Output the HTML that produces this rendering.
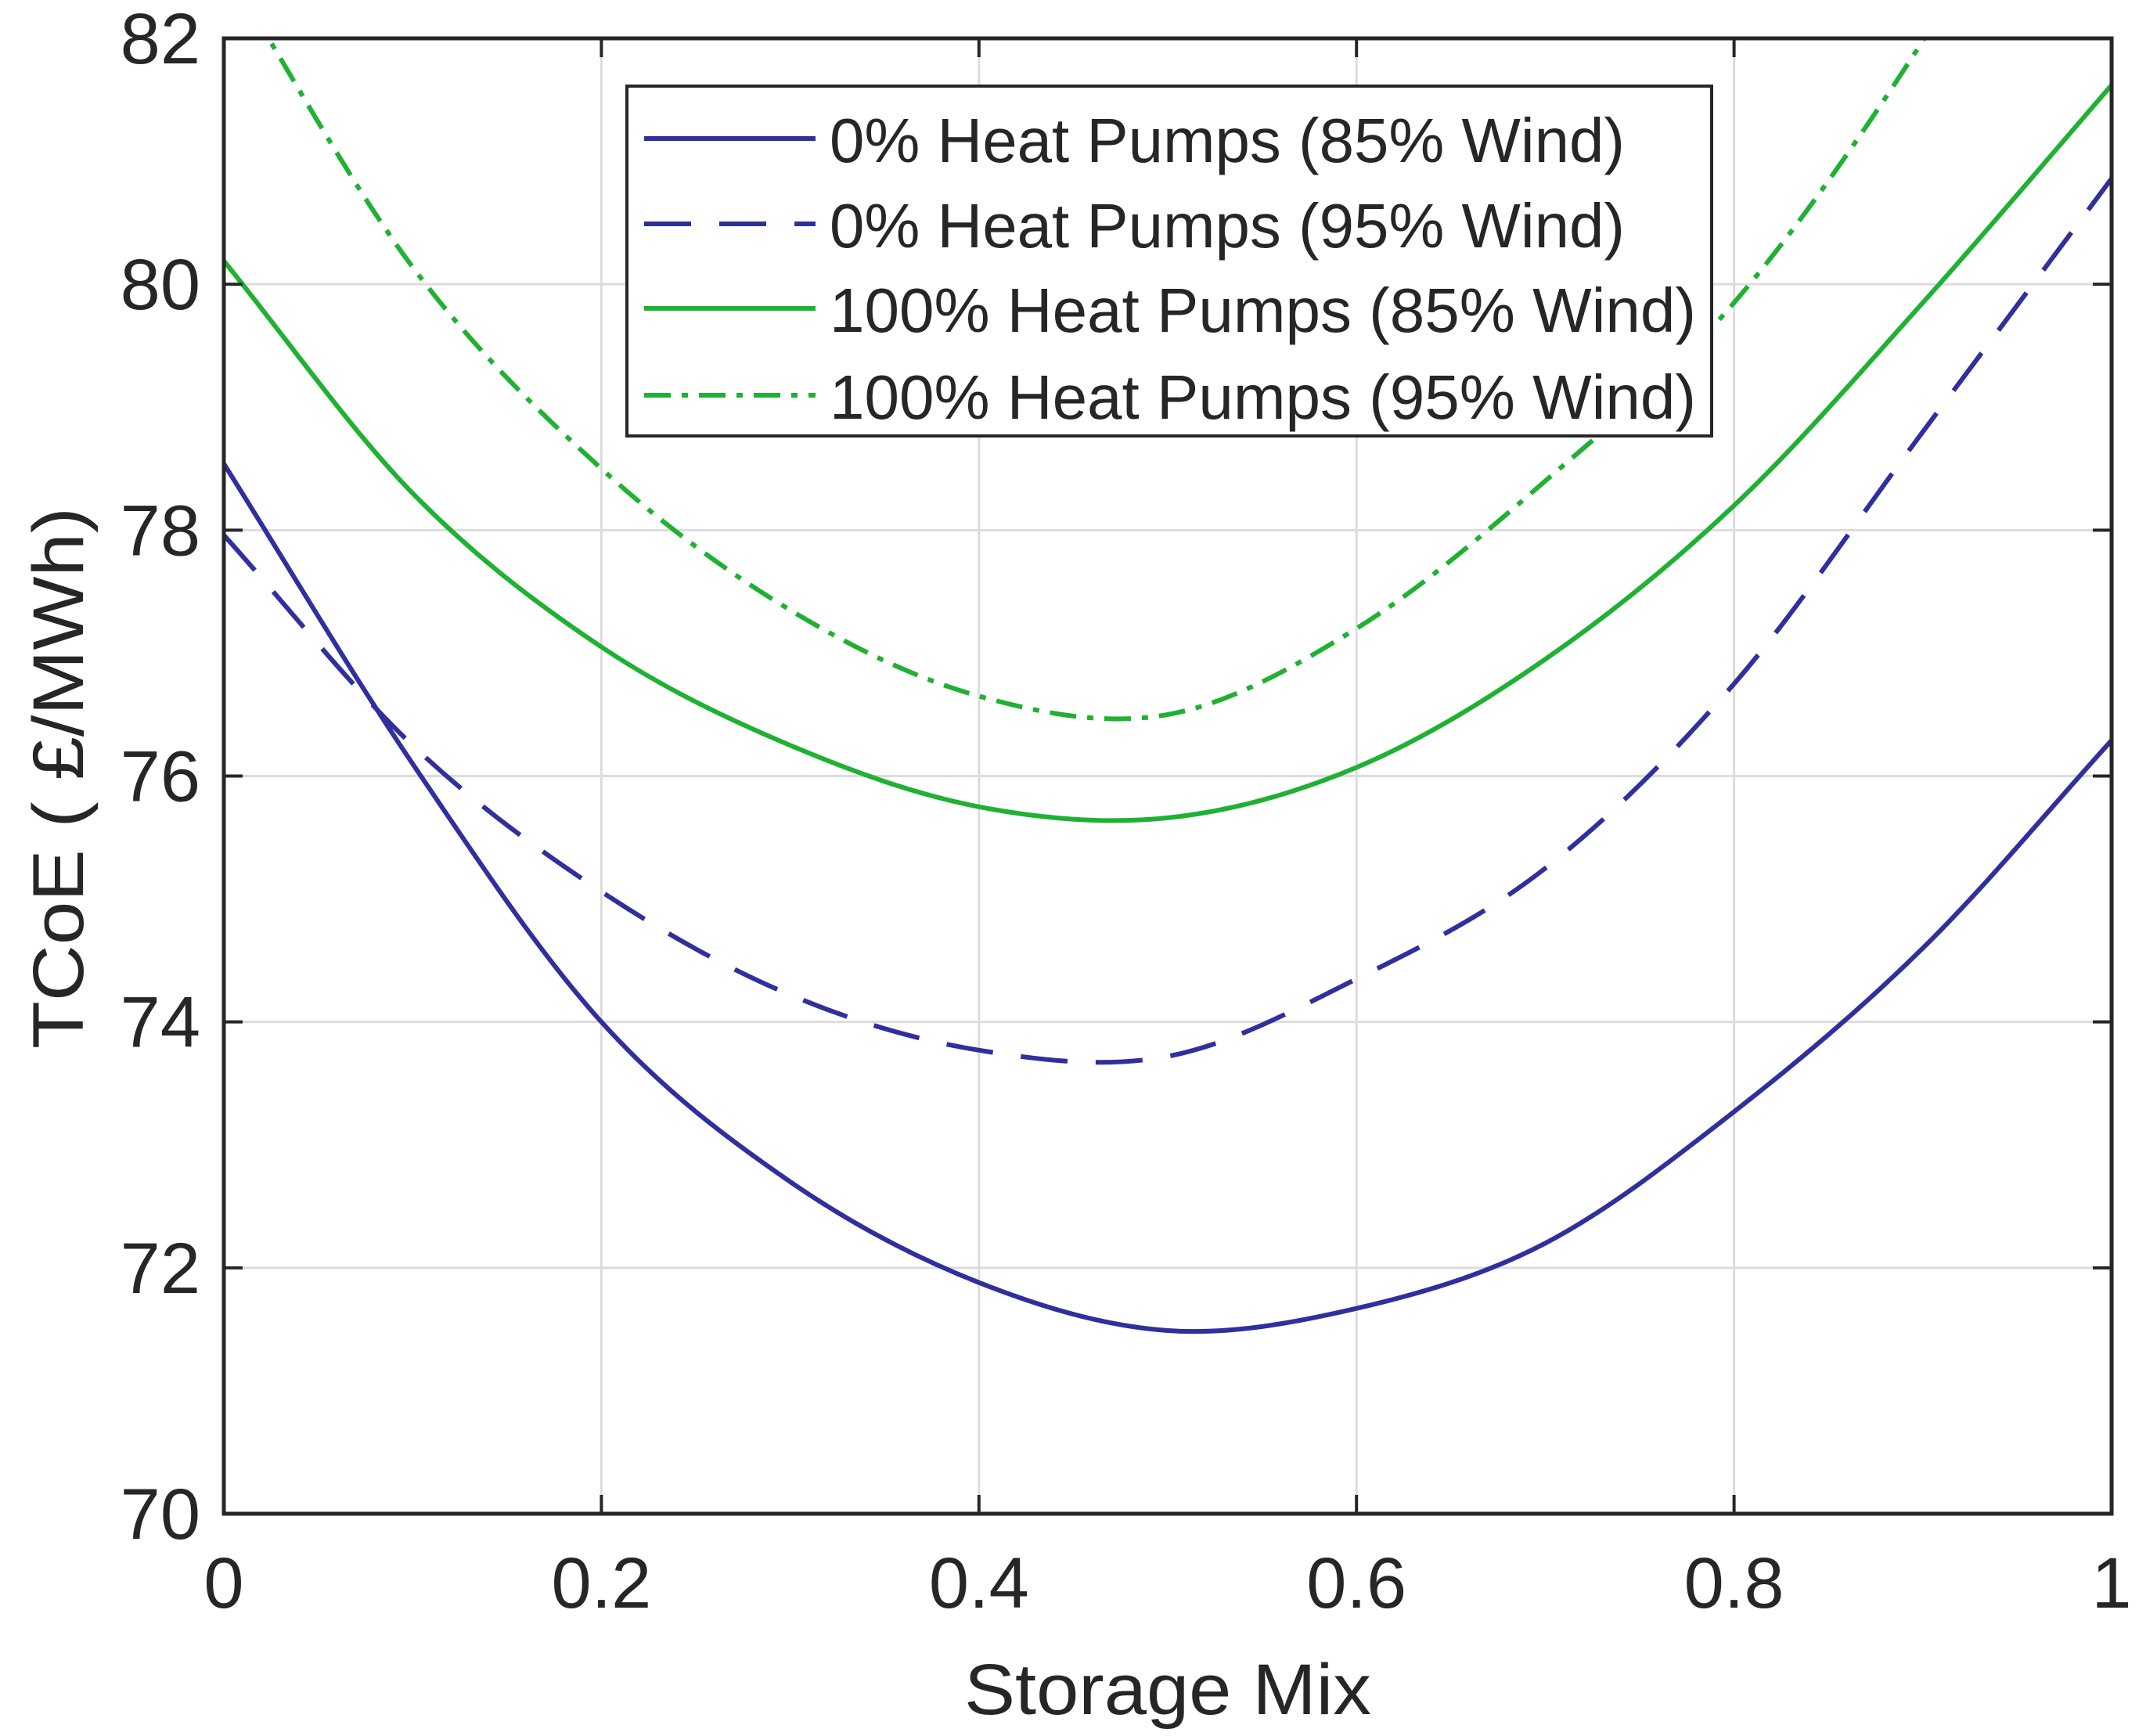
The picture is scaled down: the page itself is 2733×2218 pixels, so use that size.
<!DOCTYPE html>
<html><head><meta charset="utf-8">
<style>
html,body{margin:0;padding:0;background:#fff;}
svg{display:block;font-family:"Liberation Sans",Arial,sans-serif;}
</style></head>
<body>
<svg id="chart" width="2733" height="2218" viewBox="0 0 2733 2218" xmlns="http://www.w3.org/2000/svg">
<defs><clipPath id="plotclip"><rect x="286" y="49" width="2412" height="1885"/></clipPath></defs>
<g id="grid"></g>
<g id="series" clip-path="url(#plotclip)"></g>
<g id="axes"></g>
<text x="1492" y="2190" font-size="92" text-anchor="middle" fill="#262626" textLength="520" lengthAdjust="spacingAndGlyphs">Storage Mix</text>
<text transform="translate(106,994) rotate(-90)" font-size="92" text-anchor="middle" fill="#262626" textLength="692" lengthAdjust="spacingAndGlyphs">TCoE ( £/MWh)</text>
<g id="legend">
<rect x="801" y="110" width="1386" height="447" fill="#fff" stroke="#262626" stroke-width="4"/>
</g>
</svg>
<script>
const xTicks=[0,0.2,0.4,0.6,0.8,1];
const xTickLabels=["0","0.2","0.4","0.6","0.8","1"];
const yTicks=[70,72,74,76,78,80,82];
const yTickLabels=["70","72","74","76","78","80","82"];
const xs=[0,0.1,0.2,0.3,0.4,0.5,0.6,0.7,0.8,0.9,1];
const hp0w85=[78.54,76.1,74.0,72.7,71.88,71.49,71.67,72.2,73.27,74.6,76.29];
const hp0w95=[77.96,76.25,75.06,74.22,73.77,73.72,74.35,75.25,76.75,78.8,80.86];
const hp100w85=[80.19,78.3,77.05,76.25,75.75,75.66,76.07,76.95,78.2,79.85,81.62];
const hp100w95=[82.6,80.14,78.5,77.35,76.65,76.5,77.2,78.4,79.85,81.98,84.6];
const legendLabels=["0% Heat Pumps (85% Wind)","0% Heat Pumps (95% Wind)","100% Heat Pumps (85% Wind)","100% Heat Pumps (95% Wind)"];

const L=286,R=2698,T=49,B=1934,NS="http://www.w3.org/2000/svg";
const sx=v=>L+(v-0)/(1-0)*(R-L);
const sy=v=>B-(v-70)/(82-70)*(B-T);
function mk(tag,attrs,parent){const e=document.createElementNS(NS,tag);for(const k in attrs)e.setAttribute(k,attrs[k]);parent.appendChild(e);return e;}
const grid=document.getElementById('grid'),axes=document.getElementById('axes'),series=document.getElementById('series'),legend=document.getElementById('legend');
xTicks.forEach((t,i)=>{
  const g=mk('line',{x1:sx(t),x2:sx(t),y1:T,y2:B,stroke:'#dcdcdc','stroke-width':3},grid);
  
  
  const tk=mk('line',{x1:sx(t),x2:sx(t),y1:B,y2:B-24,stroke:'#262626','stroke-width':4},axes);
  
  
  const tk2=mk('line',{x1:sx(t),x2:sx(t),y1:T,y2:T+24,stroke:'#262626','stroke-width':4},axes);
  
  
  const lb=mk('text',{x:sx(t),y:B+120,'font-size':92,'text-anchor':'middle',fill:'#262626'},axes);
  
  
  lb.textContent=xTickLabels[i];
});
yTicks.forEach((t,i)=>{
  const g=mk('line',{x1:L,x2:R,y1:sy(t),y2:sy(t),stroke:'#dcdcdc','stroke-width':3},grid);
  
  
  const tk=mk('line',{x1:L,x2:L+24,y1:sy(t),y2:sy(t),stroke:'#262626','stroke-width':4},axes);
  
  
  const tk2=mk('line',{x1:R,x2:R-24,y1:sy(t),y2:sy(t),stroke:'#262626','stroke-width':4},axes);
  
  
  const lb=mk('text',{x:L-30,y:sy(t)+32,'font-size':92,'text-anchor':'end',fill:'#262626'},axes);
  
  
  lb.textContent=yTickLabels[i];
});
const frame=mk('rect',{x:L,y:T,width:R-L,height:B-T,fill:'none',stroke:'#262626','stroke-width':5},axes);



function pathFor(ys){
  const p=xs.map((x,i)=>[sx(x),sy(ys[i])]);
  let d='M'+p[0][0]+','+p[0][1];
  for(let i=0;i<p.length-1;i++){
    const p0=i>0?p[i-1]:[2*p[0][0]-p[1][0],2*p[0][1]-p[1][1]];
    const p1=p[i],p2=p[i+1];
    const p3=i+2<p.length?p[i+2]:[2*p2[0]-p1[0],2*p2[1]-p1[1]];
    const c1=[p1[0]+(p2[0]-p0[0])/6,p1[1]+(p2[1]-p0[1])/6];
    const c2=[p2[0]-(p3[0]-p1[0])/6,p2[1]-(p3[1]-p1[1])/6];
    d+=' C'+c1+' '+c2+' '+p2;
  }
  return d;
}
const styles=[
  {data:hp0w85,color:'#2f2f9e',dash:'',name:'line-0hp-85wind'},
  {data:hp0w95,color:'#2f2f9e',dash:'60 36',name:'line-0hp-95wind'},
  {data:hp100w85,color:'#1fb132',dash:'',name:'line-100hp-85wind'},
  {data:hp100w95,color:'#1fb132',dash:'34 14 8 14',name:'line-100hp-95wind'}
];
const ly=[177,286,394,505];
styles.forEach((s,i)=>{
  const a={d:pathFor(s.data),fill:'none',stroke:s.color,'stroke-width':6};
  if(s.dash)a['stroke-dasharray']=s.dash;
  const el=mk('path',a,series);
  
  
  const la={x1:823,x2:1042,y1:ly[i],y2:ly[i],stroke:s.color,'stroke-width':6};
  if(s.dash)la['stroke-dasharray']=s.dash;
  const ln=mk('line',la,legend);
  
  
  const tx=mk('text',{x:1060,y:ly[i]+30,'font-size':80,fill:'#262626',textLength:(i<2?1016:1107),lengthAdjust:'spacingAndGlyphs'},legend);
  
  
  tx.textContent=legendLabels[i];
});
</script>
</body></html>
